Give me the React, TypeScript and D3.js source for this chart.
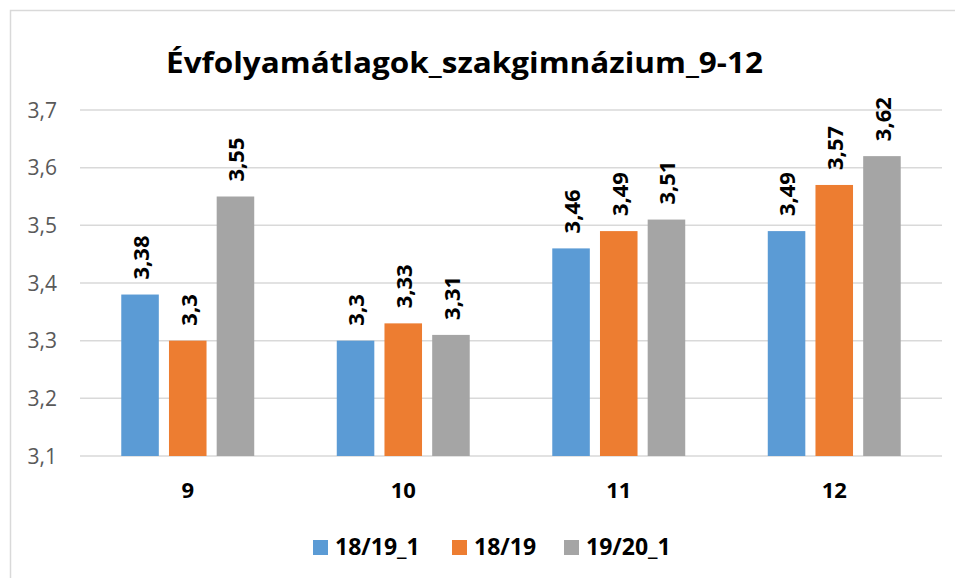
import React from "react";
import * as d3 from "d3";

const categories = ["9", "10", "11", "12"];
const seriesNames = ["18/19_1", "18/19", "19/20_1"];
const values18_19_1 = [3.38, 3.3, 3.46, 3.49];
const values18_19 = [3.3, 3.33, 3.49, 3.57];
const values19_20_1 = [3.55, 3.31, 3.51, 3.62];
const yTicks = [3.1, 3.2, 3.3, 3.4, 3.5, 3.6, 3.7];
const title = "Évfolyamátlagok_szakgimnázium_9-12";

const seriesValues = [values18_19_1, values18_19, values19_20_1];
const colors = ["#5B9BD5", "#ED7D31", "#A5A5A5"];

const W = 955;
const H = 578;
const FONT = "'Open Sans', 'DejaVu Sans', sans-serif";

export default function App() {
  const plotLeft = 80;
  const plotRight = 942;
  const yTop = 110;
  const yBottom = 456;

  const y = d3.scaleLinear().domain([3.1, 3.7]).range([yBottom, yTop]);
  const x0 = d3
    .scaleBand<string>()
    .domain(categories)
    .range([plotLeft, plotRight])
    .paddingInner(0.383)
    .paddingOuter(0.1915);
  const x1 = d3
    .scaleBand<string>()
    .domain(seriesNames)
    .range([0, x0.bandwidth()])
    .paddingInner(0.213)
    .paddingOuter(0);

  const fmt = (v: number) => String(v).replace(".", ",");

  // legend layout
  const legendSquareX = [313, 452, 564];

  return (
    <svg
      width={W}
      height={H}
      style={{ position: "absolute", left: 0, top: 0, background: "#fff" }}
      fontFamily={FONT}
    >
      <rect x={0} y={0} width={W} height={H} fill="#fff" />
      <rect
        x={10.5}
        y={10.5}
        width={W + 20}
        height={H + 20}
        fill="none"
        stroke="#D9D9D9"
        strokeWidth={1.5}
      />
      <text
        x={464.5}
        y={73}
        textAnchor="middle"
        fontSize={28}
        fontWeight="bold"
        fill="#000"
        textLength={597}
        lengthAdjust="spacingAndGlyphs"
      >
        {title}
      </text>

      {yTicks.map((t) => (
        <g key={t}>
          <line
            x1={plotLeft}
            x2={plotRight}
            y1={y(t)}
            y2={y(t)}
            stroke="#D9D9D9"
            strokeWidth={1.5}
          />
          <text
            x={57}
            y={y(t)}
            dy="0.36em"
            textAnchor="end"
            fontSize={21}
            fill="#595959"
          >
            {fmt(t)}
          </text>
        </g>
      ))}

      {categories.map((c, ci) => (
        <g key={c} transform={`translate(${x0(c)},0)`}>
          {seriesNames.map((s, si) => {
            const v = seriesValues[si][ci];
            const bx = x1(s)!;
            const bw = x1.bandwidth();
            const top = y(v);
            return (
              <g key={s}>
                <rect
                  x={bx}
                  y={top}
                  width={bw}
                  height={yBottom - top}
                  fill={colors[si]}
                />
                <text
                  transform={`translate(${bx + bw / 2},${top - 15}) rotate(-90)`}
                  dy="0.4em"
                  fontSize={22}
                  fontWeight="bold"
                  fill="#000"
                >
                  {fmt(v)}
                </text>
              </g>
            );
          })}
          <text
            x={x0.bandwidth() / 2}
            y={498}
            textAnchor="middle"
            fontSize={22}
            fontWeight="bold"
            fill="#000"
          >
            {c}
          </text>
        </g>
      ))}

      {seriesNames.map((s, si) => (
        <g key={s}>
          <rect
            x={legendSquareX[si]}
            y={540}
            width={15}
            height={15}
            fill={colors[si]}
          />
          <text
            x={legendSquareX[si] + 22}
            y={555}
            fontSize={23}
            fontWeight="bold"
            fill="#000"
          >
            {s}
          </text>
        </g>
      ))}
    </svg>
  );
}
